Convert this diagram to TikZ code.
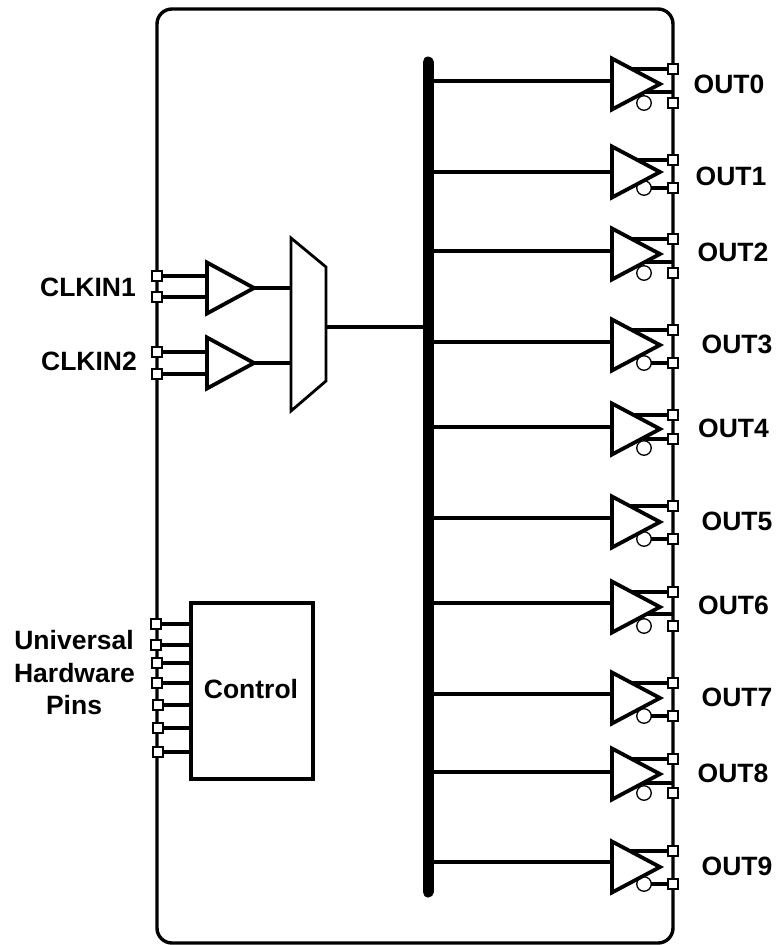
\documentclass[tikz,border=0pt]{standalone}
\usepackage{fontspec}
\setmainfont{Liberation Sans}
\tikzset{
  x=1pt,y=-1pt,
  frame/.style={draw=black,line width=3.4pt,rounded corners=15pt,fill=white},
  wire/.style={draw=black,line width=3.6pt},
  thinwire/.style={draw=black,line width=3.5pt},
  bufferbody/.style={draw=black,fill=white,line width=3.8pt,line join=miter},
  bubble/.style={circle,draw=black,fill=white,line width=1.3pt,minimum size=14.5pt,inner sep=0pt},
  pad/.style={rectangle,draw=black,fill=white,line width=1.3pt,minimum size=10pt,inner sep=0pt},
  lbl/.style={font=\fontsize{26.5}{30}\selectfont\bfseries,anchor=base,inner sep=0pt,text=black},
  muxbody/.style={draw=black,fill=white,line width=2.8pt,line join=miter},
  ctrlbox/.style={rectangle,draw=black,fill=white,line width=3.6pt,minimum width=122pt,minimum height=176pt,inner sep=0pt},
  busline/.style={draw=black,line width=11pt,line cap=round}
}
\begin{document}
\begin{tikzpicture}
\useasboundingbox (0,0) rectangle (778,945);
\fill[white] (0,0) rectangle (778,945);
\draw[frame] (157,9) rectangle (673,943);
% bus
\coordinate (bustop) at (428,62);
\coordinate (busbot) at (428,892);
\draw[busline] (bustop) -- (busbot);
% output buffers
\foreach \n/\cy/\iny/\pt/\pb/\wy/\by/\lx/\ly/\lt in {
 0/84/81/69/103/92/103/729/84/OUT0,
 1/172/172/160/188/188/188/731/176/OUT1,
 2/254/251/239/273/262/273/733/252/OUT2,
 3/345/342/330/363/363/363/737/344/OUT3,
 4/429/427/415/439/439/448/733.5/428/OUT4,
 5/522/518/506/539/539/539/737/521/OUT5,
 6/607/603/592/626/614/626/733.5/605/OUT6,
 7/698/694/683/716/716/716/737/697/OUT7,
 8/774/772/759/793/783/793/733/773/OUT8,
 9/867/862/851/884/884/884/737/866/OUT9}{
  \coordinate (busb\n) at (428,\iny);
  \coordinate (bin\n) at (611,\iny);
  \draw[thinwire] (busb\n) -- (bin\n);
  \node[pad] (pt\n) at (673,\pt) {};
  \node[pad] (pb\n) at (673,\pb) {};
  \coordinate (topw\n) at (630,\pt);
  \coordinate (botw\n) at (644,\wy);
  \coordinate (bote\n) at (673,\wy);
  \draw[wire] (topw\n) -- (pt\n);
  \draw[wire] (botw\n) -- (bote\n);
  \node[pad] at (pt\n) {};
  \node[pad] at (pb\n) {};
  \node[bubble] (bub\n) at (644,\by) {};
  \draw[bufferbody] (612,\cy-25.5) -- (660,\cy) -- (612,\cy+25.5) -- cycle;
  \node[lbl] (lab\n) at (\lx,\ly+9.4) {\lt};
}
% input buffers and mux
\draw[muxbody] (291,238) -- (326,267) -- (326,381) -- (291,411) -- cycle;
\coordinate (muxout) at (326,327);
\coordinate (busin) at (428,327);
\draw[thinwire] (muxout) -- (busin);
\node[pad] (c1a) at (157,276) {};
\node[pad] (c1b) at (157,297) {};
\node[pad] (c2a) at (157,352) {};
\node[pad] (c2b) at (157,374) {};
\coordinate (t1l) at (206,288);
\coordinate (t2l) at (206,363);
\coordinate (t1r) at (254,288);
\coordinate (t2r) at (254,363);
\coordinate (m1) at (291,288);
\coordinate (m2) at (291,363);
\draw[wire] (t1r) -- (m1);
\draw[wire] (t2r) -- (m2);
\draw[wire] (c1a) -- (c1a -| t1l);
\draw[wire] (c1b) -- (c1b -| t1l);
\draw[wire] (c2a) -- (c2a -| t2l);
\draw[wire] (c2b) -- (c2b -| t2l);
\node[pad] at (c1a) {};
\node[pad] at (c1b) {};
\node[pad] at (c2a) {};
\node[pad] at (c2b) {};
\draw[bufferbody] (207,262.5) -- (254,288) -- (207,313.5) -- cycle;
\draw[bufferbody] (207,337.5) -- (254,363) -- (207,388.5) -- cycle;
\node[lbl] (clk1) at (88,287+9.4) {CLKIN1};
\node[lbl] (clk2) at (89,361+9.4) {CLKIN2};
% control
\node[ctrlbox] (ctrl) at (252,691) {};
\node[lbl] (ctrltxt) at (251,689+9.4) {Control};
\foreach \i/\px/\py in {1/156/624,2/156/645,3/157/663,4/157/683,5/158/705,6/158/728,7/158/752}{
  \node[pad] (u\i) at (\px,\py) {};
  \draw[wire] (u\i) -- (u\i -| ctrl.west);
  \node[pad] at (u\i) {};
}
\node[lbl] (ul1) at (74,640+9.4) {Universal};
\node[lbl] (ul2) at (74.5,673+9.4) {Hardware};
\node[lbl] (ul3) at (74,705+9.4) {Pins};
\end{tikzpicture}
\end{document}
